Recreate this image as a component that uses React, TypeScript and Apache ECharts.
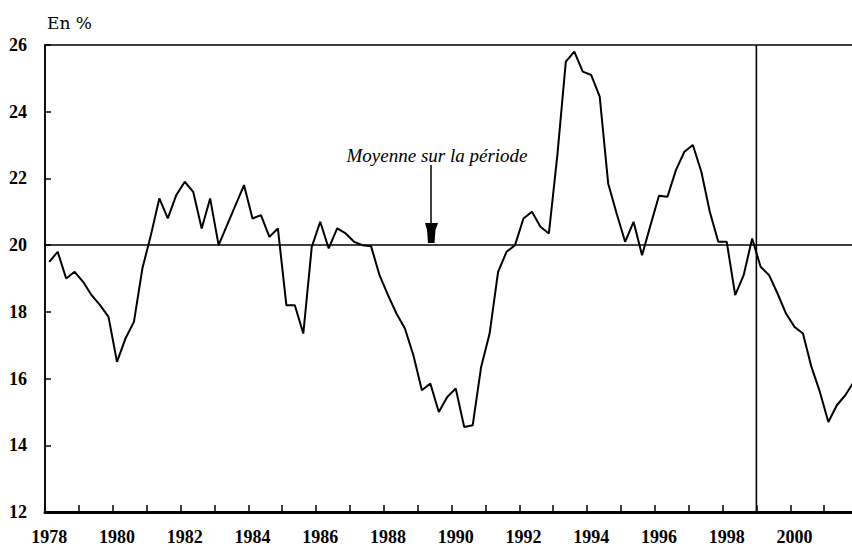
import React, { useEffect, useRef } from "react";
import * as echarts from "echarts";

const years = [1978, 1979, 1980, 1981, 1982, 1983, 1984, 1985, 1986, 1987, 1988, 1989, 1990, 1991, 1992, 1993, 1994, 1995, 1996, 1997, 1998, 1999, 2000, 2001];
const quarters = ["T1", "T2", "T3", "T4"];
const categories = years.flatMap((y) => quarters.map((q) => `${y} ${q}`));

const rate = [
  19.5, 19.8, 19.0, 19.2, 18.9, 18.5, 18.2, 17.85,
  16.5, 17.2, 17.7, 19.3, 20.3, 21.4, 20.8, 21.5,
  21.9, 21.6, 20.5, 21.4, 20.0, 20.6, 21.2, 21.8,
  20.8, 20.9, 20.25, 20.5, 18.2, 18.2, 17.35, 19.95,
  20.7, 19.9, 20.5, 20.35, 20.1, 20.0, 19.97, 19.1,
  18.5, 17.95, 17.5, 16.7, 15.65, 15.85, 15.0, 15.45,
  15.7, 14.55, 14.6, 16.35, 17.35, 19.2, 19.8, 20.0,
  20.8, 21.0, 20.55, 20.35, 22.7, 25.5, 25.8, 25.2,
  25.1, 24.45, 21.85, 20.95, 20.1, 20.7, 19.7, 20.6,
  21.48, 21.45, 22.25, 22.8, 23.0, 22.2, 21.0, 20.1,
  20.1, 18.5, 19.1, 20.2, 19.35, 19.1, 18.55, 17.95,
  17.55, 17.35, 16.35, 15.6, 14.7, 15.2, 15.5, 15.9,
];

const meanValue = 20;
const forecastStartIndex = 84; // boundary before 1999 T1
const yTicks = { min: 12, max: 26, interval: 2 };
const unitLabel = "En %";
const annotationText = "Moyenne sur la période";

const SERIF = "'Liberation Serif', 'Times New Roman', Times, serif";

export default function App() {
  const ref = useRef<HTMLDivElement>(null);

  useEffect(() => {
    document.body.style.margin = "0";
    const chart = echarts.init(ref.current!, null, { renderer: "svg" });
    const tickFont = {
      fontFamily: SERIF,
      fontWeight: "bold" as const,
      fontSize: 18,
      color: "#000",
    };
    chart.setOption({
      animation: false,
      backgroundColor: "#fff",
      grid: {
        left: 45,
        top: 45,
        width: 813,
        height: 467,
        outerBoundsMode: "none",
        containLabel: false,
        show: true,
        borderColor: "#000",
        borderWidth: 1.5,
        backgroundColor: "#fff",
      },
      xAxis: [
        {
          type: "category",
          data: categories,
          boundaryGap: true,
          axisLine: { show: true, lineStyle: { color: "#000", width: 3 } },
          axisTick: { show: true, inside: true, length: 7, interval: 3, lineStyle: { color: "#000", width: 1.5 } },
          axisLabel: {
            ...tickFont,
            interval: 7,
            margin: 16,
            formatter: (v: string) => v.slice(0, 4),
          },
          splitLine: { show: false },
        },
        {
          type: "value",
          min: 0,
          max: categories.length,
          show: false,
        },
      ],
      yAxis: {
        type: "value",
        min: yTicks.min,
        max: yTicks.max,
        interval: yTicks.interval,
        axisLine: { show: true, lineStyle: { color: "#000", width: 1.5 } },
        axisTick: { show: true, inside: true, length: 6, lineStyle: { color: "#000", width: 1.5 } },
        axisLabel: { ...tickFont, margin: 18 },
        splitLine: { show: false },
      },
      series: [
        {
          type: "line",
          data: rate,
          symbol: "none",
          lineStyle: { color: "#000", width: 2 },
          markLine: {
            silent: true,
            symbol: "none",
            label: { show: false },
            lineStyle: { color: "#000", width: 1.6, type: "solid" },
            data: [{ yAxis: meanValue }],
          },
          z: 3,
        },
        {
          type: "line",
          xAxisIndex: 1,
          data: [
            [forecastStartIndex, yTicks.min],
            [forecastStartIndex, yTicks.max],
          ],
          symbol: "none",
          lineStyle: { color: "#000", width: 1.6 },
          z: 2,
        },
      ],
      graphic: [
        {
          type: "text",
          left: 47,
          top: 14,
          style: {
            text: unitLabel,
            fontFamily: "'DejaVu Serif', serif",
            fontSize: 17,
            fill: "#000",
          },
        },
        {
          type: "text",
          x: 437,
          y: 155,
          style: {
            text: annotationText,
            fontFamily: SERIF,
            fontStyle: "italic",
            fontSize: 19,
            fill: "#000",
            align: "center",
            verticalAlign: "middle",
          },
        },
        {
          type: "line",
          shape: { x1: 431, y1: 165, x2: 431, y2: 226 },
          style: { stroke: "#000", lineWidth: 1.5 },
        },
        {
          type: "polygon",
          shape: {
            points: [
              [425, 223],
              [438, 223],
              [435.5, 230],
              [434.5, 243],
              [428, 243],
              [427, 230],
            ],
          },
          style: { fill: "#000" },
        },
      ],
    });
    return () => chart.dispose();
  }, []);

  return <div ref={ref} style={{ width: 852, height: 550 }} />;
}
